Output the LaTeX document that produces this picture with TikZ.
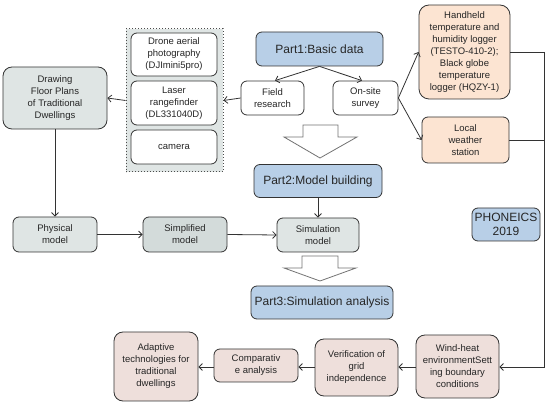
\documentclass[tikz,border=0pt]{standalone}
\usepackage{fontspec}
\setmainfont{Liberation Sans}
\usetikzlibrary{arrows.meta}
\definecolor{pblue}{HTML}{B8CFE7}
\definecolor{porange}{HTML}{FCE4D2}
\definecolor{ppink}{HTML}{EEDFDB}
\definecolor{pgray}{HTML}{DFE5E4}
\definecolor{pgrayd}{HTML}{D3DBDA}
\definecolor{pline}{HTML}{333333}
\tikzset{
  box/.style={draw=pline, line width=0.8pt, rounded corners=6pt, align=center, inner sep=1pt, font=\fontsize{9.5}{12}\selectfont, text=black!85},
  partbox/.style={box, fill=pblue, font=\fontsize{12}{15}\selectfont},
  conn/.style={draw=pline, line width=0.8pt, -{Straight Barb[length=3.5pt,width=7pt]}},
  plain/.style={draw=pline, line width=0.8pt},
  hollow/.style={draw=black!55, line width=0.8pt, fill=white, line join=miter}
}
\begin{document}
\begin{tikzpicture}[x=1pt,y=-1pt]
\useasboundingbox (0,0) rectangle (550,406);
% group box
\node[draw=black!70, dotted, line width=1pt, fill=pgray, minimum width=97pt, minimum height=143pt] (grp) at (174.5,100.5) {};
\node[box, fill=white, minimum width=86pt, minimum height=43pt] (drone) at (174,54.5) {Drone aerial\\photography\\(DJImini5pro)};
\node[box, fill=white, minimum width=86pt, minimum height=44pt] (laser) at (174,103) {Laser\\rangefinder\\(DL331040D)};
\node[box, fill=white, minimum width=86pt, minimum height=34pt] (camera) at (174,147) {camera};
% top
\node[partbox, minimum width=127pt, minimum height=34pt] (p1) at (319.5,49) {Part1:Basic data};
\node[box, fill=white, minimum width=63pt, minimum height=34pt] (field) at (272.5,98) {Field\\research};
\node[box, fill=white, minimum width=65pt, minimum height=34pt] (onsite) at (365.5,98) {On-site\\survey};
\node[box, fill=porange, rounded corners=10pt, minimum width=91pt, minimum height=94pt] (hand) at (464.5,52) {Handheld\\temperature and\\humidity logger\\(TESTO-410-2);\\Black globe\\temperature\\logger (HQZY-1)};
\node[box, fill=porange, minimum width=87pt, minimum height=46pt] (local) at (465.5,140) {Local\\weather\\station};
\node[box, fill=pgray, rounded corners=9pt, minimum width=104pt, minimum height=62pt] (draw) at (55,98) {Drawing\\Floor Plans\\of Traditional\\Dwellings};
% middle
\node[partbox, minimum width=128pt, minimum height=33pt] (p2) at (318,181) {Part2:Model building};
\node[box, fill=pgray, minimum width=84pt, minimum height=35pt] (phys) at (55,234.5) {Physical\\model};
\node[box, fill=pgrayd, minimum width=84pt, minimum height=35pt] (simp) at (185,234.5) {Simplified\\model};
\node[box, fill=pgray, minimum width=82pt, minimum height=34pt] (sim) at (318,235) {Simulation\\model};
\node[partbox, minimum width=142pt, minimum height=33pt] (p3) at (322,302.5) {Part3:Simulation analysis};
\node[partbox, minimum width=68pt, minimum height=33pt, font=\fontsize{12}{13.5}\selectfont] (pho) at (506,224.5) {PHONEICS\\2019};
% bottom
\node[box, fill=ppink, rounded corners=9pt, minimum width=83pt, minimum height=63pt] (wind) at (457.5,366.5) {Wind-heat\\environmentSett\\ing boundary\\conditions};
\node[box, fill=ppink, rounded corners=9pt, minimum width=83pt, minimum height=57pt] (veri) at (356.5,367.5) {Verification of\\grid\\independence};
\node[box, fill=ppink, minimum width=84pt, minimum height=33pt] (comp) at (256,365.5) {Comparativ\\e analysis};
\node[box, fill=ppink, rounded corners=9pt, minimum width=84pt, minimum height=69pt] (adap) at (156,366.5) {Adaptive\\technologies for\\traditional\\dwellings};
% connectors
\draw[conn] (p1.south) -- (field.north -| 275,0);
\draw[conn] (p1.south) -- (onsite.north -| 362,0);
\draw[conn] (field.west) -- (grp.east);
\draw[conn] (grp.west) -- (draw.east);
\draw[conn] (onsite.east) -- (hand.west);
\draw[conn] (onsite.east) -- (local.west);
\draw[conn] (draw.south) -- (phys.north);
\draw[conn] (phys.east) -- (simp.west);
\draw[conn] (simp.east) -- (sim.west);
\draw[conn] (p2.south -| sim.north) -- (sim.north);
\coordinate (rtop) at (544,52);
\coordinate (rmid) at (544,140);
\coordinate (rbot) at (544,367);
\draw[plain] (hand.east |- rtop) -- (rtop);
\draw[plain] (local.east |- rmid) -- (rmid);
\draw[conn] (rtop) -- (rbot) -- (wind.east |- rbot);
\draw[conn] (wind.west |- rbot) -- (veri.east |- rbot);
\draw[conn] (veri.west |- rbot) -- (comp.east |- rbot);
\draw[conn] (comp.west |- rbot) -- (adap.east |- rbot);
% hollow arrows
\draw[hollow] (303,125) -- (338,125) -- (338,137) -- (357,137) -- (320,158) -- (284,137) -- (303,137) -- cycle;
\draw[hollow] (302,256) -- (338,256) -- (338,268) -- (356,268) -- (320,281) -- (284,268) -- (302,268) -- cycle;
\end{tikzpicture}
\end{document}
